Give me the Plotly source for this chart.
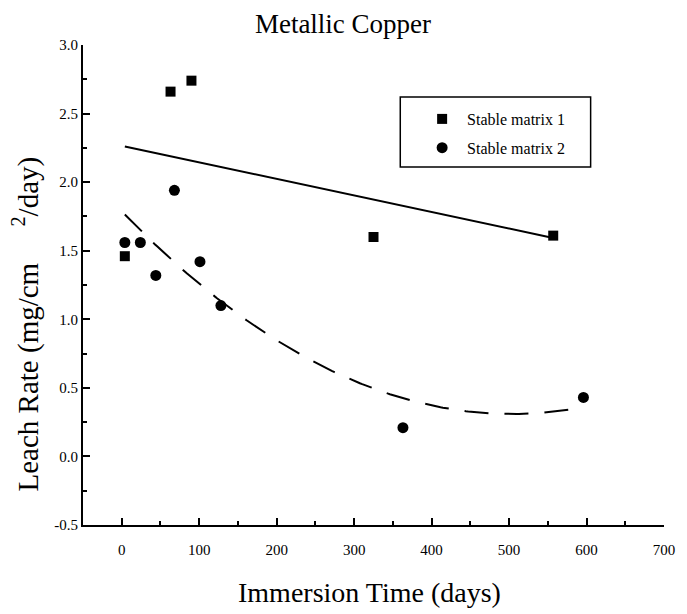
import numpy as np
import plotly.graph_objects as go

# Data
m1_days = [4, 63, 90, 325, 557]
m1_rate = [1.46, 2.66, 2.74, 1.60, 1.61]

m2_days = [4, 24, 44, 68, 101, 128, 363, 596]
m2_rate = [1.56, 1.56, 1.32, 1.94, 1.42, 1.10, 0.21, 0.43]

y_tickvals = [-0.5, 0.0, 0.5, 1.0, 1.5, 2.0, 2.5, 3.0]
y_ticktext = ["-0.5", "0.0", "0.5", "1.0", "1.5", "2.0", "2.5", "3.0"]
x_tickvals = [0, 100, 200, 300, 400, 500, 600, 700]

FONT = "Liberation Serif, Times New Roman, serif"

# Fits
c1 = np.polyfit(m1_days, m1_rate, 1)
x1 = np.linspace(min(m1_days), max(m1_days), 50)
y1 = np.polyval(c1, x1)
c2 = np.polyfit(m2_days, m2_rate, 2)
x2 = np.linspace(min(m2_days), max(m2_days), 200)
y2 = np.polyval(c2, x2)

fig = go.Figure()
fig.add_trace(go.Scatter(x=x1, y=y1, mode="lines", line=dict(color="black", width=2),
                         showlegend=False, hoverinfo="skip"))
fig.add_trace(go.Scatter(x=x2, y=y2, mode="lines",
                         line=dict(color="black", width=2, dash="24px,16px"),
                         showlegend=False, hoverinfo="skip"))
fig.add_trace(go.Scatter(x=m1_days, y=m1_rate, mode="markers", name="Stable matrix 1",
                         marker=dict(symbol="square", size=10, color="black"),
                         legendgroup="a"))
fig.add_trace(go.Scatter(x=m2_days, y=m2_rate, mode="markers", name="Stable matrix 2",
                         marker=dict(symbol="circle", size=11, color="black"),
                         legendgroup="b"))

L, R, T, B = 83, 18, 45, 89
W, H = 687, 614
pw, ph = W - L - R, H - T - B

def px_x(p):
    return (p - L) / pw

def px_y(p):
    return 1 - (p - T) / ph

fig.update_layout(
    width=W, height=H,
    margin=dict(l=L, r=R, t=T, b=B),
    paper_bgcolor="white", plot_bgcolor="white",
    font=dict(family=FONT, color="black", size=14),
    title=dict(text="Metallic Copper", x=343 / W, xref="container", xanchor="center",
               y=1 - 23.5 / H, yref="container", yanchor="middle",
               font=dict(family=FONT, size=27, color="black")),
    legend=dict(x=px_x(420), y=px_y(102), xanchor="left", yanchor="top",
                bgcolor="rgba(0,0,0,0)", borderwidth=0, itemwidth=40,
                font=dict(family=FONT, size=16, color="black"),
                tracegroupgap=5),
    shapes=[dict(type="rect", xref="paper", yref="paper",
                 x0=px_x(403), x1=px_x(595), y0=px_y(167), y1=px_y(97),
                 line=dict(color="black", width=1.5))],
    annotations=[
        dict(text="Immersion Time (days)", xref="paper", yref="paper",
             x=px_x(372), y=px_y(592), xanchor="center", yanchor="middle",
             showarrow=False, font=dict(family=FONT, size=28, color="black")),
        dict(text="Leach Rate (mg/cm\u00a0\u00a0\u00a0\u00a0\u00a0<sup>2</sup>/day)",
             xref="paper", yref="paper", textangle=-90,
             x=px_x(25), y=px_y(324), xanchor="center", yanchor="middle",
             showarrow=False, font=dict(family=FONT, size=29, color="black")),
    ],
)

fig.update_xaxes(
    range=[-50, 700], showline=True, linecolor="black", linewidth=2,
    showgrid=False, zeroline=False, mirror=False,
    tickvals=x_tickvals, ticks="inside", ticklen=7, tickwidth=1.5, tickcolor="black",
    minor=dict(dtick=50, tick0=0, ticks="inside", ticklen=4, tickwidth=1.5, tickcolor="black"),
    tickfont=dict(family=FONT, size=15), ticklabelstandoff=10,
)
fig.update_yaxes(
    range=[-0.5, 3.0], showline=True, linecolor="black", linewidth=2,
    showgrid=False, zeroline=False, mirror=False,
    tickvals=y_tickvals, ticktext=y_ticktext,
    ticks="inside", ticklen=7, tickwidth=1.5, tickcolor="black",
    minor=dict(dtick=0.25, tick0=0, ticks="inside", ticklen=4, tickwidth=1.5, tickcolor="black"),
    tickfont=dict(family=FONT, size=15), ticklabelstandoff=0,
)

fig.write_html("out.html")
